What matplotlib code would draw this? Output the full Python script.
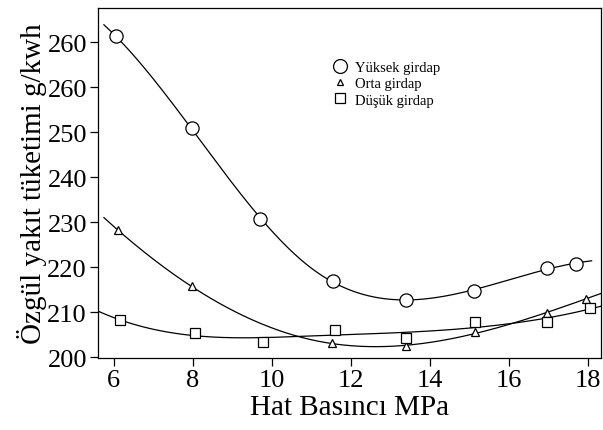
import numpy as np
import matplotlib.pyplot as plt

plt.rcParams['font.family'] = ['Liberation Serif', 'DejaVu Serif']

# values
x_yuksek = [6.05, 7.97, 9.69, 11.56, 13.39, 15.12, 16.96, 17.70]
y_yuksek = [271.3, 251.0, 230.7, 217.0, 212.7, 214.7, 219.9, 220.7]

x_orta = [6.11, 7.97, 11.53, 13.39, 15.15, 16.98, 17.95]
y_orta = [228.2, 215.7, 203.1, 202.4, 205.5, 209.8, 213.0]

x_dusuk = [6.15, 8.06, 9.78, 11.61, 13.41, 15.14, 16.98, 18.05]
y_dusuk = [208.2, 205.3, 203.3, 206.1, 204.3, 207.7, 207.9, 211.0]

yticks = [200, 210, 220, 230, 240, 250, 260, 270]
ytick_labels = ['200', '210', '220', '230', '240', '250', '260', '260']
xticks = [6, 8, 10, 12, 14, 16, 18]


def spline_basis(x, knot=11.0):
    # cubic regression spline with one interior knot
    x = np.asarray(x, float)
    return np.column_stack([np.ones_like(x), x, x**2, x**3,
                            np.clip(x - knot, 0, None)**3])


fig = plt.figure(figsize=(6.03, 4.31), dpi=100)
ax = fig.add_axes([0.1625, 0.167, 0.835, 0.812])

series = [
    (x_yuksek, y_yuksek, 'o', 9.5, 'Yüksek girdap', 5.75, 18.1),
    (x_orta, y_orta, '^', 5.5, 'Orta girdap', 5.75, 18.35),
    (x_dusuk, y_dusuk, 's', 7.5, 'Düşük girdap', 5.6, 18.35),
]

handles = []
for xs, ys, m, ms, lab, x0, x1 in series:
    coef = np.linalg.lstsq(spline_basis(xs), np.asarray(ys), rcond=None)[0]
    xx = np.linspace(x0, x1, 300)
    ax.plot(xx, spline_basis(xx) @ coef, color='black', lw=0.9)
    h, = ax.plot(xs, ys, linestyle='none', marker=m, ms=ms, mfc='white',
                 mec='black', mew=0.9, label=lab)
    handles.append(h)

leg = ax.legend(handles=handles, loc='upper left', bbox_to_anchor=(0.455, 0.865),
                frameon=False, fontsize=10.5, handletextpad=0.5, labelspacing=0.2,
                handlelength=1.0, borderaxespad=0)
for h, s in zip(leg.legend_handles, [10, 4.5, 7.5]):
    h.set_markersize(s)

ax.set_xlim(5.6, 18.35)
ax.set_ylim(199.8, 277.6)
ax.set_yticks(yticks)
ax.set_yticklabels(ytick_labels)
ax.set_xticks(xticks)
ax.tick_params(labelsize=19, length=6, width=0.9, pad=2)
ax.set_xlabel('Hat Basıncı MPa', fontsize=21, labelpad=2)
ax.set_ylabel('Özgül yakıt tüketimi g/kwh', fontsize=21, labelpad=0)
for s in ax.spines.values():
    s.set_linewidth(0.9)

fig.savefig('out.png', dpi=100)
